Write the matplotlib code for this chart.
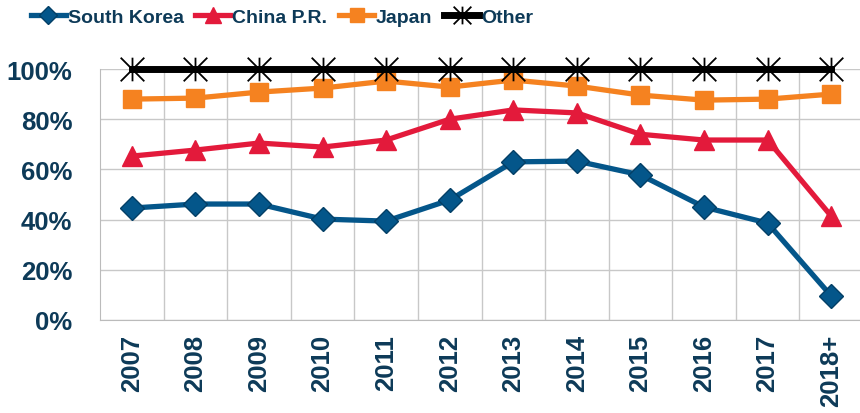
import matplotlib.pyplot as plt
from matplotlib.path import Path
from matplotlib.ticker import FixedLocator, PercentFormatter

years = ["2007", "2008", "2009", "2010", "2011", "2012", "2013", "2014",
         "2015", "2016", "2017", "2018+"]
south_korea = [44.6, 46.2, 46.2, 40.2, 39.4, 47.8, 63.0, 63.3, 57.8, 45.0, 38.6, 9.6]
china = [65.3, 67.7, 70.5, 68.9, 71.7, 80.0, 83.7, 82.5, 74.0, 71.7, 71.7, 41.4]
japan = [88.0, 88.4, 90.8, 92.4, 95.2, 92.8, 95.6, 93.2, 89.6, 87.6, 88.0, 90.0]
other = [100] * 12

navy = "#0D3A58"
plt.rcParams['font.family'] = ['Liberation Sans', 'DejaVu Sans']

# asterisk marker: vertical bar plus an X
star = Path([(0, -1), (0, 1), (-1, -1), (1, 1), (-1, 1), (1, -1)],
            [Path.MOVETO, Path.LINETO, Path.MOVETO, Path.LINETO, Path.MOVETO, Path.LINETO])

fig = plt.figure(figsize=(8.6, 4.14), dpi=100)
ax = fig.add_axes([100 / 860, 1 - 321 / 414, 763 / 860, 251 / 414])
x = list(range(len(years)))

ax.plot(x, south_korea, color="#04568A", lw=3.8, marker="D", ms=12,
        mec="#033F66", mew=1, label="South Korea", zorder=4)
ax.plot(x, china, color="#E31A3B", lw=3.8, marker="^", ms=15,
        label="China P.R.", zorder=4)
ax.plot(x, japan, color="#F58220", lw=3.8, marker="s", ms=13,
        label="Japan", zorder=4)
ax.plot(x, other, color="black", lw=5, marker=star, ms=17, mew=1.3,
        mfc="none", mec="black", label="Other", zorder=5, clip_on=False)

ax.set_xlim(-0.5, len(years) - 0.5)
ax.set_ylim(0, 100)
ax.yaxis.set_major_locator(FixedLocator([0, 20, 40, 60, 80, 100]))
ax.yaxis.set_major_formatter(PercentFormatter(decimals=0))
ax.set_xticks(x)
ax.set_xticklabels(years, rotation=90)
ax.xaxis.set_minor_locator(FixedLocator([i + 0.5 for i in x]))
ax.grid(axis="y", color="#C8C8C8", lw=1)
ax.grid(axis="x", which="minor", color="#C8C8C8", lw=1)
ax.tick_params(which="both", length=0)
ax.tick_params(axis="y", labelsize=18.5, labelcolor=navy, pad=20)
ax.tick_params(axis="x", labelsize=18.5, labelcolor=navy, pad=10)
for lab in ax.get_xticklabels() + ax.get_yticklabels():
    lab.set_fontweight("bold")
for s in ["top", "right"]:
    ax.spines[s].set_visible(False)
for s in ["left", "bottom"]:
    ax.spines[s].set_color("#BBBBBB")
ax.set_axisbelow(True)

leg = fig.legend(loc="center", bbox_to_anchor=(282 / 860, 1 - 18 / 414), ncol=4,
                 frameon=False, handlelength=1.8, handletextpad=0.1,
                 columnspacing=0.6, borderaxespad=0, markerscale=0.75,
                 prop={"weight": "bold", "size": 14})
for t in leg.get_texts():
    t.set_color(navy)

fig.savefig("out.png", dpi=100)
